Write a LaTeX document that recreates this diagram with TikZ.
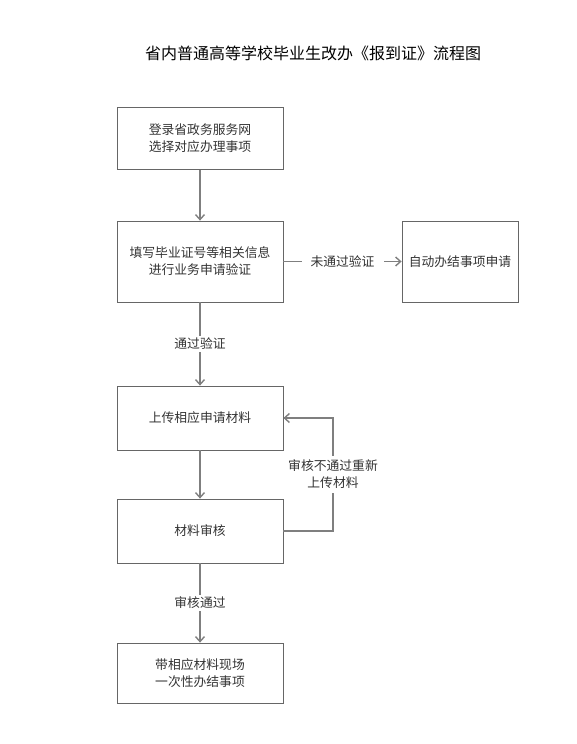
\documentclass[tikz,border=0pt]{standalone}
\usepackage{fontspec}
\setmainfont{Noto Sans CJK SC}
\usetikzlibrary{arrows.meta}
\definecolor{txt}{HTML}{333333}
\definecolor{ln}{HTML}{7F7F7F}
\definecolor{bd}{HTML}{666666}
\begin{document}
\begin{tikzpicture}[x=1pt,y=-1pt,
  box/.style={draw=bd,line width=0.8pt,minimum width=166pt,align=center,font=\fontsize{12.8}{17}\selectfont,text=txt,inner sep=0pt},
  rbox/.style={box,minimum width=116pt,minimum height=81pt},
  lbl/.style={font=\fontsize{12.8}{17}\selectfont,text=txt,fill=white,align=center,inner sep=2pt},
  arr/.style={draw=ln,line width=1.8pt,-{Straight Barb[length=5pt,width=9pt,line width=1.4pt]}},
  ln/.style={draw=ln,line width=1.8pt}]
\useasboundingbox (0,0) rectangle (577,744);
\node[font=\fontsize{16}{18}\selectfont,text=black] (title) at (313,53) {省内普通高等学校毕业生改办《报到证》流程图};
\node[box,minimum height=62pt] (b1) at (200,138.5) {登录省政务服务网\\选择对应办理事项};
\node[box,minimum height=81pt] (b2) at (200,261.5) {填写毕业证号等相关信息\\进行业务申请验证};
\node[rbox] (b6) at (460,261.5) {自动办结事项申请};
\node[box,minimum height=64pt] (b3) at (200,418) {上传相应申请材料};
\node[box,minimum height=64pt] (b4) at (200,531) {材料审核};
\node[box,minimum height=60pt] (b5) at (200,673) {带相应材料现场\\一次性办结事项};
\draw[arr] (b1) -- (b2);
\draw[arr] (b2) -- node[lbl,pos=0.5] {通过验证} (b3);
\draw[arr] (b2) -- node[lbl,inner xsep=9pt] {未通过验证} (b6);
\draw[arr] (b3) -- (b4);
\draw[arr] (b4) -- node[lbl] {审核通过} (b5);
\coordinate (c1) at (333,531);
\coordinate (c2) at (333,418);
\draw[arr] (b4.east) -- (c1) -- node[lbl,pos=0.5,inner ysep=4pt] {审核不通过重新\\上传材料} (c2) -- (b3.east);
\end{tikzpicture}
\end{document}
